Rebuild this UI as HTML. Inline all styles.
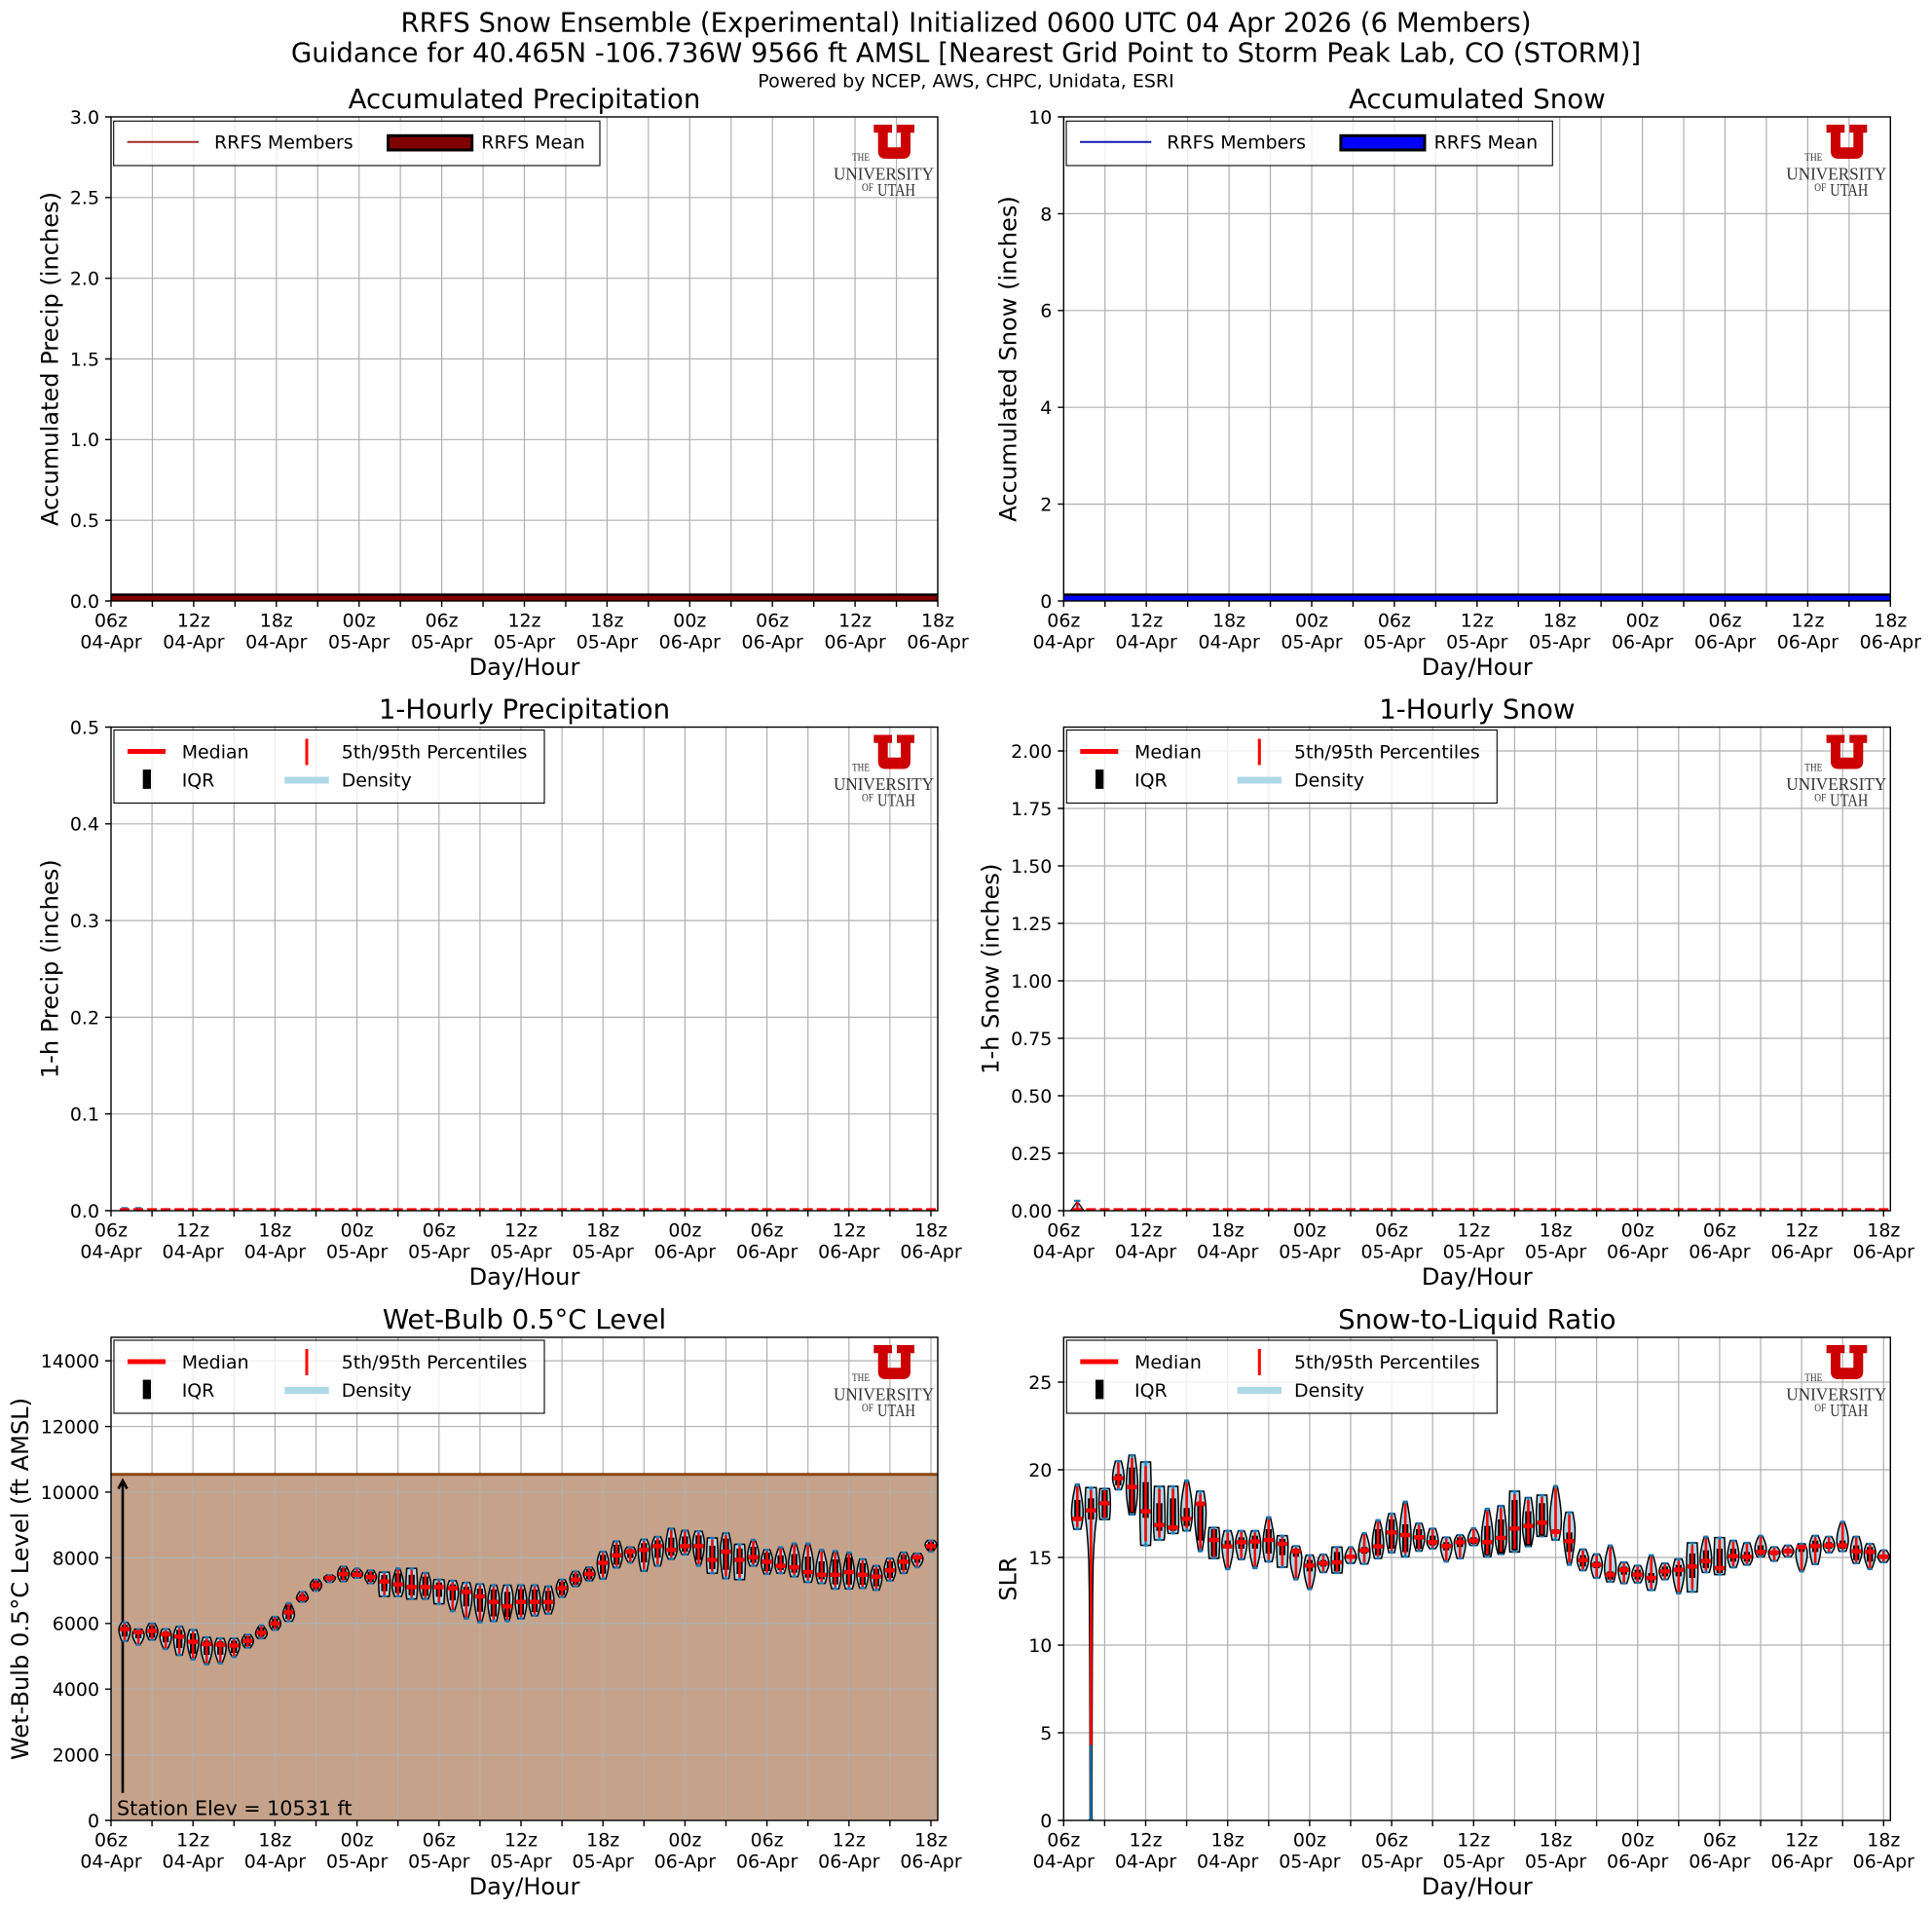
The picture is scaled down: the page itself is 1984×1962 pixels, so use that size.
<!DOCTYPE html>
<html><head><meta charset="utf-8"><title>RRFS Snow Ensemble</title>
<style>
html,body{margin:0;padding:0;background:#fff;overflow:hidden}
svg{display:block}
.g{stroke:#b0b0b0;stroke-width:1.2;fill:none}
.sp{fill:none;stroke:#000;stroke-width:1.4}
.tk{stroke:#000;stroke-width:1.4;fill:none}
.t{font-size:18.94px}
.lg{font-size:18.94px}
.logo{font-family:"Liberation Serif","DejaVu Serif",serif;fill:#333}
</style></head>
<body>
<svg xmlns="http://www.w3.org/2000/svg" width="1984" height="1962" viewBox="0 0 1984 1962" font-family="'DejaVu Sans','Liberation Sans',sans-serif">
<defs>
<path id="vgA" class="g" d="M42.45 0V497M84.9 0V497M127.35 0V497M169.8 0V497M212.25 0V497M254.7 0V497M297.15 0V497M339.6 0V497M382.05 0V497M424.5 0V497M466.95 0V497M509.4 0V497M551.85 0V497M594.3 0V497M636.75 0V497M679.2 0V497M721.65 0V497M764.1 0V497M806.55 0V497"/>
<path id="vgB" class="g" d="M42.1 0V496M84.2 0V496M126.3 0V496M168.4 0V496M210.5 0V496M252.6 0V496M294.7 0V496M336.8 0V496M378.9 0V496M421 0V496M463.1 0V496M505.2 0V496M547.3 0V496M589.4 0V496M631.5 0V496M673.6 0V496M715.7 0V496M757.8 0V496M799.9 0V496M842 0V496"/>
<path id="xtA" class="tk" d="M0 0v6M42.45 0v6M84.9 0v6M127.35 0v6M169.8 0v6M212.25 0v6M254.7 0v6M297.15 0v6M339.6 0v6M382.05 0v6M424.5 0v6M466.95 0v6M509.4 0v6M551.85 0v6M594.3 0v6M636.75 0v6M679.2 0v6M721.65 0v6M764.1 0v6M806.55 0v6M849 0v6"/>
<path id="xtB" class="tk" d="M0 0v6M42.1 0v6M84.2 0v6M126.3 0v6M168.4 0v6M210.5 0v6M252.6 0v6M294.7 0v6M336.8 0v6M378.9 0v6M421 0v6M463.1 0v6M505.2 0v6M547.3 0v6M589.4 0v6M631.5 0v6M673.6 0v6M715.7 0v6M757.8 0v6M799.9 0v6M842 0v6"/>
<path id="uU" fill="#cc0000" d="M0,0 H18.7 V8.3 H14.4 V23.3 H27.7 V8.3 H23.7 V0 H41.7 V8.3 H37.7 V27 Q37.7,35 29.7,35 H12.4 Q4.4,35 4.4,27 V8.3 H0 Z"/>
</defs>
<rect x="0" y="0" width="1984" height="1962" fill="#fff"/>

<!-- Suptitle -->
<text x="992" y="32.3" text-anchor="middle" font-size="27.6">RRFS Snow Ensemble (Experimental) Initialized 0600 UTC 04 Apr 2026 (6 Members)</text>
<text x="992" y="63.3" text-anchor="middle" font-size="27.6">Guidance for 40.465N -106.736W 9566 ft AMSL [Nearest Grid Point to Storm Peak Lab, CO (STORM)]</text>
<text x="992" y="89.3" text-anchor="middle" font-size="19">Powered by NCEP, AWS, CHPC, Unidata, ESRI</text>

<!-- ============ P1 Accumulated Precipitation ============ -->
<g transform="translate(114,120)">
<text x="424.5" y="-9" text-anchor="middle" font-size="27.6">Accumulated Precipitation</text>
<use href="#vgA"/>
<path class="g" d="M0 414.17H849M0 331.33H849M0 248.5H849M0 165.67H849M0 82.83H849"/>
<rect x="0" y="489.3" width="849" height="7.7" fill="#000"/>
<rect x="0" y="491.7" width="849" height="5.3" fill="#800000"/>
<rect x="2.7" y="4.3" width="499.3" height="45.7" fill="#fff" fill-opacity="0.8" stroke="#000" stroke-width="1.1"/>
<path d="M16.7 25.7H90" stroke="#a52a2a" stroke-width="2"/>
<text class="lg" x="106" y="32.6">RRFS Members</text>
<rect x="284.6" y="19.3" width="86.1" height="14.7" fill="#800000" stroke="#000" stroke-width="3"/>
<text class="lg" x="380.3" y="32.6">RRFS Mean</text>
<use href="#uU" x="783.3" y="8"/>
<text class="logo" x="761" y="45" font-size="12" textLength="18" lengthAdjust="spacingAndGlyphs">THE</text>
<text class="logo" x="742" y="64.5" font-size="18" textLength="103" lengthAdjust="spacingAndGlyphs">UNIVERSITY</text>
<text class="logo" x="771" y="76" font-size="12" textLength="12" lengthAdjust="spacingAndGlyphs">OF</text>
<text class="logo" x="787" y="81" font-size="18" textLength="39" lengthAdjust="spacingAndGlyphs">UTAH</text>
<rect class="sp" x="0" y="0" width="849" height="497"/>
<use href="#xtA" y="497"/>
<path class="tk" d="M0 497h-6M0 414.17h-6M0 331.33h-6M0 248.5h-6M0 165.67h-6M0 82.83h-6M0 0h-6"/>
<g class="t" text-anchor="end">
<text x="-12" y="503.9">0.0</text><text x="-12" y="421.07">0.5</text><text x="-12" y="338.23">1.0</text><text x="-12" y="255.4">1.5</text><text x="-12" y="172.57">2.0</text><text x="-12" y="89.73">2.5</text><text x="-12" y="6.9">3.0</text>
</g>
<g class="t" text-anchor="middle">
<text x="0" y="523.5">06z<tspan x="0" dy="22">04-Apr</tspan></text>
<text x="84.9" y="523.5">12z<tspan x="84.9" dy="22">04-Apr</tspan></text>
<text x="169.8" y="523.5">18z<tspan x="169.8" dy="22">04-Apr</tspan></text>
<text x="254.7" y="523.5">00z<tspan x="254.7" dy="22">05-Apr</tspan></text>
<text x="339.6" y="523.5">06z<tspan x="339.6" dy="22">05-Apr</tspan></text>
<text x="424.5" y="523.5">12z<tspan x="424.5" dy="22">05-Apr</tspan></text>
<text x="509.4" y="523.5">18z<tspan x="509.4" dy="22">05-Apr</tspan></text>
<text x="594.3" y="523.5">00z<tspan x="594.3" dy="22">06-Apr</tspan></text>
<text x="679.2" y="523.5">06z<tspan x="679.2" dy="22">06-Apr</tspan></text>
<text x="764.1" y="523.5">12z<tspan x="764.1" dy="22">06-Apr</tspan></text>
<text x="849" y="523.5">18z<tspan x="849" dy="22">06-Apr</tspan></text>
</g>
<text x="424.5" y="573" text-anchor="middle" font-size="24.1">Day/Hour</text>
<text transform="translate(-54.6,248.5) rotate(-90)" text-anchor="middle" font-size="24.1">Accumulated Precip (inches)</text>
</g>

<!-- ============ P2 Accumulated Snow ============ -->
<g transform="translate(1092.3,120)">
<text x="424.5" y="-9" text-anchor="middle" font-size="27.6">Accumulated Snow</text>
<use href="#vgA"/>
<path class="g" d="M0 397.6H849M0 298.2H849M0 198.8H849M0 99.4H849"/>
<rect x="0" y="489.3" width="849" height="7.7" fill="#000"/>
<rect x="0" y="491.7" width="849" height="5.3" fill="#0000ff"/>
<rect x="2.7" y="4.3" width="499.3" height="45.7" fill="#fff" fill-opacity="0.8" stroke="#000" stroke-width="1.1"/>
<path d="M16.7 25.7H90" stroke="#1515b0" stroke-width="2"/>
<text class="lg" x="106" y="32.6">RRFS Members</text>
<rect x="284.6" y="19.3" width="86.1" height="14.7" fill="#0000ff" stroke="#000" stroke-width="3"/>
<text class="lg" x="380.3" y="32.6">RRFS Mean</text>
<use href="#uU" x="783.3" y="8"/>
<text class="logo" x="761" y="45" font-size="12" textLength="18" lengthAdjust="spacingAndGlyphs">THE</text>
<text class="logo" x="742" y="64.5" font-size="18" textLength="103" lengthAdjust="spacingAndGlyphs">UNIVERSITY</text>
<text class="logo" x="771" y="76" font-size="12" textLength="12" lengthAdjust="spacingAndGlyphs">OF</text>
<text class="logo" x="787" y="81" font-size="18" textLength="39" lengthAdjust="spacingAndGlyphs">UTAH</text>
<rect class="sp" x="0" y="0" width="849" height="497"/>
<use href="#xtA" y="497"/>
<path class="tk" d="M0 497h-6M0 397.6h-6M0 298.2h-6M0 198.8h-6M0 99.4h-6M0 0h-6"/>
<g class="t" text-anchor="end">
<text x="-12" y="503.9">0</text><text x="-12" y="404.5">2</text><text x="-12" y="305.1">4</text><text x="-12" y="205.7">6</text><text x="-12" y="106.3">8</text><text x="-12" y="6.9">10</text>
</g>
<g class="t" text-anchor="middle">
<text x="0" y="523.5">06z<tspan x="0" dy="22">04-Apr</tspan></text>
<text x="84.9" y="523.5">12z<tspan x="84.9" dy="22">04-Apr</tspan></text>
<text x="169.8" y="523.5">18z<tspan x="169.8" dy="22">04-Apr</tspan></text>
<text x="254.7" y="523.5">00z<tspan x="254.7" dy="22">05-Apr</tspan></text>
<text x="339.6" y="523.5">06z<tspan x="339.6" dy="22">05-Apr</tspan></text>
<text x="424.5" y="523.5">12z<tspan x="424.5" dy="22">05-Apr</tspan></text>
<text x="509.4" y="523.5">18z<tspan x="509.4" dy="22">05-Apr</tspan></text>
<text x="594.3" y="523.5">00z<tspan x="594.3" dy="22">06-Apr</tspan></text>
<text x="679.2" y="523.5">06z<tspan x="679.2" dy="22">06-Apr</tspan></text>
<text x="764.1" y="523.5">12z<tspan x="764.1" dy="22">06-Apr</tspan></text>
<text x="849" y="523.5">18z<tspan x="849" dy="22">06-Apr</tspan></text>
</g>
<text x="424.5" y="573" text-anchor="middle" font-size="24.1">Day/Hour</text>
<text transform="translate(-48.7,248.5) rotate(-90)" text-anchor="middle" font-size="24.1">Accumulated Snow (inches)</text>
</g>

<!-- ============ P3 1-Hourly Precipitation ============ -->
<g transform="translate(114,746.5)">
<text x="424.5" y="-9" text-anchor="middle" font-size="27.6">1-Hourly Precipitation</text>
<use href="#vgB"/>
<path class="g" d="M0 397.2H849M0 297.9H849M0 198.6H849M0 99.3H849"/>
<path d="M10.8 493.8H17.2M24.9 493.8H31.3" stroke="#1f77b4" stroke-width="2"/>
<path d="M9.03 495.2H849" stroke="#ff0000" stroke-width="2.6" stroke-dasharray="10 4.033"/>
<rect x="3" y="3" width="442" height="75" fill="#fff" fill-opacity="0.8" stroke="#000" stroke-width="1.1"/>
<rect x="17" y="22.5" width="39" height="5" fill="#ff0000"/>
<text class="lg" x="72.7" y="31.9">Median</text>
<rect x="199.5" y="12" width="3" height="27" fill="#ff0000"/>
<text class="lg" x="236.7" y="31.9">5th/95th Percentiles</text>
<rect x="32.7" y="43.6" width="8.3" height="19.8" fill="#000"/>
<text class="lg" x="72.7" y="60.9">IQR</text>
<rect x="178.3" y="51" width="45.4" height="7" fill="#add8e6"/>
<text class="lg" x="236.7" y="60.9">Density</text>
<use href="#uU" x="783.3" y="8"/>
<text class="logo" x="761" y="45" font-size="12" textLength="18" lengthAdjust="spacingAndGlyphs">THE</text>
<text class="logo" x="742" y="64.5" font-size="18" textLength="103" lengthAdjust="spacingAndGlyphs">UNIVERSITY</text>
<text class="logo" x="771" y="76" font-size="12" textLength="12" lengthAdjust="spacingAndGlyphs">OF</text>
<text class="logo" x="787" y="81" font-size="18" textLength="39" lengthAdjust="spacingAndGlyphs">UTAH</text>
<rect class="sp" x="0" y="0" width="849" height="496.5"/>
<use href="#xtB" y="496.5"/>
<path class="tk" d="M0 496.5h-6M0 397.2h-6M0 297.9h-6M0 198.6h-6M0 99.3h-6M0 0h-6"/>
<g class="t" text-anchor="end">
<text x="-12" y="503.4">0.0</text><text x="-12" y="404.1">0.1</text><text x="-12" y="304.8">0.2</text><text x="-12" y="205.5">0.3</text><text x="-12" y="106.2">0.4</text><text x="-12" y="6.9">0.5</text>
</g>
<g class="t" text-anchor="middle">
<text x="0" y="523">06z<tspan x="0" dy="22">04-Apr</tspan></text>
<text x="84.2" y="523">12z<tspan x="84.2" dy="22">04-Apr</tspan></text>
<text x="168.4" y="523">18z<tspan x="168.4" dy="22">04-Apr</tspan></text>
<text x="252.6" y="523">00z<tspan x="252.6" dy="22">05-Apr</tspan></text>
<text x="336.8" y="523">06z<tspan x="336.8" dy="22">05-Apr</tspan></text>
<text x="421" y="523">12z<tspan x="421" dy="22">05-Apr</tspan></text>
<text x="505.2" y="523">18z<tspan x="505.2" dy="22">05-Apr</tspan></text>
<text x="589.4" y="523">00z<tspan x="589.4" dy="22">06-Apr</tspan></text>
<text x="673.6" y="523">06z<tspan x="673.6" dy="22">06-Apr</tspan></text>
<text x="757.8" y="523">12z<tspan x="757.8" dy="22">06-Apr</tspan></text>
<text x="842" y="523">18z<tspan x="842" dy="22">06-Apr</tspan></text>
</g>
<text x="424.5" y="572.5" text-anchor="middle" font-size="24.1">Day/Hour</text>
<text transform="translate(-54.6,248.25) rotate(-90)" text-anchor="middle" font-size="24.1">1-h Precip (inches)</text>
</g>

<!-- ============ P4 1-Hourly Snow ============ -->
<g transform="translate(1092.3,746.5)">
<text x="424.5" y="-9" text-anchor="middle" font-size="27.6">1-Hourly Snow</text>
<use href="#vgB"/>
<path class="g" d="M0 437.5H849M0 378.5H849M0 319.5H849M0 260.5H849M0 201.5H849M0 142.5H849M0 83.5H849M0 24.5H849"/>
<polygon points="7.2,496.5 14.03,487 20.9,496.5" fill="#add8e6" stroke="#000" stroke-width="1.2"/>
<rect x="12.9" y="487.5" width="2.3" height="9" fill="#ff0000"/>
<path d="M10.8 486.4H17.2" stroke="#1f77b4" stroke-width="2.3"/>
<path d="M9.03 495.2H849" stroke="#ff0000" stroke-width="2.6" stroke-dasharray="10 4.033"/>
<rect x="3" y="3" width="442" height="75" fill="#fff" fill-opacity="0.8" stroke="#000" stroke-width="1.1"/>
<rect x="17" y="22.5" width="39" height="5" fill="#ff0000"/>
<text class="lg" x="72.7" y="31.9">Median</text>
<rect x="199.5" y="12" width="3" height="27" fill="#ff0000"/>
<text class="lg" x="236.7" y="31.9">5th/95th Percentiles</text>
<rect x="32.7" y="43.6" width="8.3" height="19.8" fill="#000"/>
<text class="lg" x="72.7" y="60.9">IQR</text>
<rect x="178.3" y="51" width="45.4" height="7" fill="#add8e6"/>
<text class="lg" x="236.7" y="60.9">Density</text>
<use href="#uU" x="783.3" y="8"/>
<text class="logo" x="761" y="45" font-size="12" textLength="18" lengthAdjust="spacingAndGlyphs">THE</text>
<text class="logo" x="742" y="64.5" font-size="18" textLength="103" lengthAdjust="spacingAndGlyphs">UNIVERSITY</text>
<text class="logo" x="771" y="76" font-size="12" textLength="12" lengthAdjust="spacingAndGlyphs">OF</text>
<text class="logo" x="787" y="81" font-size="18" textLength="39" lengthAdjust="spacingAndGlyphs">UTAH</text>
<rect class="sp" x="0" y="0" width="849" height="496.5"/>
<use href="#xtB" y="496.5"/>
<path class="tk" d="M0 496.5h-6M0 437.5h-6M0 378.5h-6M0 319.5h-6M0 260.5h-6M0 201.5h-6M0 142.5h-6M0 83.5h-6M0 24.5h-6"/>
<g class="t" text-anchor="end">
<text x="-12" y="503.4">0.00</text><text x="-12" y="444.4">0.25</text><text x="-12" y="385.4">0.50</text><text x="-12" y="326.4">0.75</text><text x="-12" y="267.4">1.00</text><text x="-12" y="208.4">1.25</text><text x="-12" y="149.4">1.50</text><text x="-12" y="90.4">1.75</text><text x="-12" y="31.4">2.00</text>
</g>
<g class="t" text-anchor="middle">
<text x="0" y="523">06z<tspan x="0" dy="22">04-Apr</tspan></text>
<text x="84.2" y="523">12z<tspan x="84.2" dy="22">04-Apr</tspan></text>
<text x="168.4" y="523">18z<tspan x="168.4" dy="22">04-Apr</tspan></text>
<text x="252.6" y="523">00z<tspan x="252.6" dy="22">05-Apr</tspan></text>
<text x="336.8" y="523">06z<tspan x="336.8" dy="22">05-Apr</tspan></text>
<text x="421" y="523">12z<tspan x="421" dy="22">05-Apr</tspan></text>
<text x="505.2" y="523">18z<tspan x="505.2" dy="22">05-Apr</tspan></text>
<text x="589.4" y="523">00z<tspan x="589.4" dy="22">06-Apr</tspan></text>
<text x="673.6" y="523">06z<tspan x="673.6" dy="22">06-Apr</tspan></text>
<text x="757.8" y="523">12z<tspan x="757.8" dy="22">06-Apr</tspan></text>
<text x="842" y="523">18z<tspan x="842" dy="22">06-Apr</tspan></text>
</g>
<text x="424.5" y="572.5" text-anchor="middle" font-size="24.1">Day/Hour</text>
<text transform="translate(-66.8,248.25) rotate(-90)" text-anchor="middle" font-size="24.1">1-h Snow (inches)</text>
</g>

<!-- ============ P5 Wet-Bulb ============ -->
<g transform="translate(114,1373)">
<text x="424.5" y="-9" text-anchor="middle" font-size="27.6">Wet-Bulb 0.5°C Level</text>
<rect x="0" y="141" width="849" height="355" fill="#c5a289"/>
<use href="#vgB"/>
<path class="g" d="M0 428.59H849M0 361.18H849M0 293.77H849M0 226.36H849M0 158.95H849M0 91.54H849M0 24.13H849"/>
<path d="M0 140.8H849" stroke="#8b4513" stroke-width="3"/>
<path d="M12 467.7V147.5M7.5 155.5L12 147L16.5 155.5" stroke="#000" stroke-width="2.6" fill="none"/>
<text x="6" y="490.6" font-size="20.67">Station Elev = 10531 ft</text>
<g id="v5" transform="translate(-114,-1373)"></g>
<rect x="3" y="3" width="442" height="75" fill="#fff" fill-opacity="0.8" stroke="#000" stroke-width="1.1"/>
<rect x="17" y="22.5" width="39" height="5" fill="#ff0000"/>
<text class="lg" x="72.7" y="31.9">Median</text>
<rect x="199.5" y="12" width="3" height="27" fill="#ff0000"/>
<text class="lg" x="236.7" y="31.9">5th/95th Percentiles</text>
<rect x="32.7" y="43.6" width="8.3" height="19.8" fill="#000"/>
<text class="lg" x="72.7" y="60.9">IQR</text>
<rect x="178.3" y="51" width="45.4" height="7" fill="#add8e6"/>
<text class="lg" x="236.7" y="60.9">Density</text>
<use href="#uU" x="783.3" y="8"/>
<text class="logo" x="761" y="45" font-size="12" textLength="18" lengthAdjust="spacingAndGlyphs">THE</text>
<text class="logo" x="742" y="64.5" font-size="18" textLength="103" lengthAdjust="spacingAndGlyphs">UNIVERSITY</text>
<text class="logo" x="771" y="76" font-size="12" textLength="12" lengthAdjust="spacingAndGlyphs">OF</text>
<text class="logo" x="787" y="81" font-size="18" textLength="39" lengthAdjust="spacingAndGlyphs">UTAH</text>
<rect class="sp" x="0" y="0" width="849" height="496"/>
<use href="#xtB" y="496"/>
<path class="tk" d="M0 496h-6M0 428.59h-6M0 361.18h-6M0 293.77h-6M0 226.36h-6M0 158.95h-6M0 91.54h-6M0 24.13h-6"/>
<g class="t" text-anchor="end">
<text x="-12" y="502.9">0</text><text x="-12" y="435.49">2000</text><text x="-12" y="368.08">4000</text><text x="-12" y="300.67">6000</text><text x="-12" y="233.26">8000</text><text x="-12" y="165.85">10000</text><text x="-12" y="98.44">12000</text><text x="-12" y="31.03">14000</text>
</g>
<g class="t" text-anchor="middle">
<text x="0" y="522.5">06z<tspan x="0" dy="22">04-Apr</tspan></text>
<text x="84.2" y="522.5">12z<tspan x="84.2" dy="22">04-Apr</tspan></text>
<text x="168.4" y="522.5">18z<tspan x="168.4" dy="22">04-Apr</tspan></text>
<text x="252.6" y="522.5">00z<tspan x="252.6" dy="22">05-Apr</tspan></text>
<text x="336.8" y="522.5">06z<tspan x="336.8" dy="22">05-Apr</tspan></text>
<text x="421" y="522.5">12z<tspan x="421" dy="22">05-Apr</tspan></text>
<text x="505.2" y="522.5">18z<tspan x="505.2" dy="22">05-Apr</tspan></text>
<text x="589.4" y="522.5">00z<tspan x="589.4" dy="22">06-Apr</tspan></text>
<text x="673.6" y="522.5">06z<tspan x="673.6" dy="22">06-Apr</tspan></text>
<text x="757.8" y="522.5">12z<tspan x="757.8" dy="22">06-Apr</tspan></text>
<text x="842" y="522.5">18z<tspan x="842" dy="22">06-Apr</tspan></text>
</g>
<text x="424.5" y="572" text-anchor="middle" font-size="24.1">Day/Hour</text>
<text transform="translate(-84.8,248) rotate(-90)" text-anchor="middle" font-size="24.1">Wet-Bulb 0.5°C Level (ft AMSL)</text>
</g>

<!-- ============ P6 Snow-to-Liquid Ratio ============ -->
<g transform="translate(1092.3,1373)">
<text x="424.5" y="-9" text-anchor="middle" font-size="27.6">Snow-to-Liquid Ratio</text>
<use href="#vgB"/>
<path class="g" d="M0 406H849M0 316H849M0 226H849M0 136H849M0 46H849"/>
<g id="v6" transform="translate(-1092.3,-1373)"></g>
<rect x="3" y="3" width="442" height="75" fill="#fff" fill-opacity="0.8" stroke="#000" stroke-width="1.1"/>
<rect x="17" y="22.5" width="39" height="5" fill="#ff0000"/>
<text class="lg" x="72.7" y="31.9">Median</text>
<rect x="199.5" y="12" width="3" height="27" fill="#ff0000"/>
<text class="lg" x="236.7" y="31.9">5th/95th Percentiles</text>
<rect x="32.7" y="43.6" width="8.3" height="19.8" fill="#000"/>
<text class="lg" x="72.7" y="60.9">IQR</text>
<rect x="178.3" y="51" width="45.4" height="7" fill="#add8e6"/>
<text class="lg" x="236.7" y="60.9">Density</text>
<use href="#uU" x="783.3" y="8"/>
<text class="logo" x="761" y="45" font-size="12" textLength="18" lengthAdjust="spacingAndGlyphs">THE</text>
<text class="logo" x="742" y="64.5" font-size="18" textLength="103" lengthAdjust="spacingAndGlyphs">UNIVERSITY</text>
<text class="logo" x="771" y="76" font-size="12" textLength="12" lengthAdjust="spacingAndGlyphs">OF</text>
<text class="logo" x="787" y="81" font-size="18" textLength="39" lengthAdjust="spacingAndGlyphs">UTAH</text>
<rect class="sp" x="0" y="0" width="849" height="496"/>
<use href="#xtB" y="496"/>
<path class="tk" d="M0 496h-6M0 406h-6M0 316h-6M0 226h-6M0 136h-6M0 46h-6"/>
<g class="t" text-anchor="end">
<text x="-12" y="502.9">0</text><text x="-12" y="412.9">5</text><text x="-12" y="322.9">10</text><text x="-12" y="232.9">15</text><text x="-12" y="142.9">20</text><text x="-12" y="52.9">25</text>
</g>
<g class="t" text-anchor="middle">
<text x="0" y="522.5">06z<tspan x="0" dy="22">04-Apr</tspan></text>
<text x="84.2" y="522.5">12z<tspan x="84.2" dy="22">04-Apr</tspan></text>
<text x="168.4" y="522.5">18z<tspan x="168.4" dy="22">04-Apr</tspan></text>
<text x="252.6" y="522.5">00z<tspan x="252.6" dy="22">05-Apr</tspan></text>
<text x="336.8" y="522.5">06z<tspan x="336.8" dy="22">05-Apr</tspan></text>
<text x="421" y="522.5">12z<tspan x="421" dy="22">05-Apr</tspan></text>
<text x="505.2" y="522.5">18z<tspan x="505.2" dy="22">05-Apr</tspan></text>
<text x="589.4" y="522.5">00z<tspan x="589.4" dy="22">06-Apr</tspan></text>
<text x="673.6" y="522.5">06z<tspan x="673.6" dy="22">06-Apr</tspan></text>
<text x="757.8" y="522.5">12z<tspan x="757.8" dy="22">06-Apr</tspan></text>
<text x="842" y="522.5">18z<tspan x="842" dy="22">06-Apr</tspan></text>
</g>
<text x="424.5" y="572" text-anchor="middle" font-size="24.1">Day/Hour</text>
<text transform="translate(-48.7,248) rotate(-90)" text-anchor="middle" font-size="24.1">SLR</text>
</g>
</svg>

<script>
(function(){
var NS="http://www.w3.org/2000/svg";
function el(p,tag,a){var e=document.createElementNS(NS,tag);for(var k in a)e.setAttribute(k,a[k]);p.appendChild(e);return e;}
var W=5.9;
function bodyPts(x,t,b,m,type){
  var h=b-t,wt,wb,p;
  if(type==1){wt=.3*W;wb=.6*W;p=t+.65*h;}
  else if(type==2){wt=.6*W;wb=.3*W;p=t+.35*h;}
  else if(type==3){wt=.85*W;wb=.85*W;p=m;}
  else{wt=.5*W;wb=.5*W;p=m;}
  if(p<t+.15*h)p=t+.15*h; if(p>b-.15*h)p=b-.15*h;
  var N=16,R=[],L=[];
  for(var i=0;i<=N;i++){
    var y=t+h*i/N,w,s;
    if(y<=p){s=(y-t)/(p-t);w=wt+(W-wt)*Math.sin(s*Math.PI/2);}
    else{s=(y-p)/(b-p);w=wb+(W-wb)*Math.cos(s*Math.PI/2);}
    R.push((x+w).toFixed(2)+","+y.toFixed(2));
    L.unshift((x-w).toFixed(2)+","+y.toFixed(2));
  }
  return R.concat(L).join(" ");
}
function deco(g,x,t,b,m,q3,q1,pt,pb){
  el(g,"path",{d:"M"+x+" "+t+"V"+b+"M"+(x-2.5)+" "+t+"H"+(x+2.5)+"M"+(x-2.5)+" "+b+"H"+(x+2.5),stroke:"#1f77b4","stroke-width":"2.2",fill:"none"});
  el(g,"rect",{x:x-3.15,y:q3,width:6.3,height:Math.max(q1-q3,1),fill:"#000"});
  el(g,"rect",{x:x-1.3,y:pt,width:2.6,height:Math.max(pb-pt,0.5),fill:"#ff0000"});
  el(g,"rect",{x:x-5,y:m-2.2,width:10,height:4.4,fill:"#ff0000"});
}
function violin(g,x,t,b,m,q3,q1,type){
  el(g,"polygon",{points:bodyPts(x,t,b,m,type),fill:"#add8e6",stroke:"#000","stroke-width":"1.5"});
  var h=b-t;
  deco(g,x,t,b,m,q3,q1,t+.05*h,b-.05*h);
}
var WB=[[800,850,818,0],[818,860,826,2],[803,847,823,0],[818,872,832,2],[811,888,838,0],[820,900,852,2],[840,913,858,2],[843,910,860,2],[843,893,862,2],[833,868,850,0],
[808,843,828,1],[785,820,803,0],[748,797,773,1],[718,745,735,0],[685,715,700,0],[673,692,680,0],[650,690,670,0],[655,680,672,1],[660,695,678,0],[665,730,690,3],
[655,730,698,1],[655,737,705,3],[667,737,705,0],[685,750,705,3],[688,770,708,2],[693,790,718,2],[697,800,730,2],[700,797,745,0],[700,797,757,2],[700,790,745,0],
[700,782,745,0],[703,777,745,0],[685,732,708,0],[663,703,685,0],[652,688,670,0],[610,683,640,0],[582,653,620,0],[598,640,610,2],[577,662,605,0],[570,648,595,0],
[548,630,605,0],[553,618,595,0],[555,648,595,2],[573,668,632,3],[560,682,610,0],[590,685,632,3],[578,648,625,1],[605,670,637,0],[598,668,648,1],[588,677,652,1],
[588,692,665,1],[605,695,672,1],[608,710,672,1],[612,710,665,1],[630,708,672,0],[648,713,677,0],[628,688,660,0],[612,668,637,0],[615,652,625,2],[580,610,595,2]];
var SLR=[[162,300,268,210,275,1],null,[175,270,220,180,265,3],[90,178,143,130,165,0],[72,255,170,110,250,0],[93,350,245,155,265,3],[168,333,287,220,305,3],[168,313,295,205,305,3],[150,305,268,235,290,1],[183,368,222,215,335,2],
[295,390,333,300,385,3],[305,423,353,335,360,2],[305,393,340,325,360,0],[305,420,338,320,360,2],[263,400,333,300,375,1],[320,417,345,330,380,3],[352,455,368,360,385,2],[380,485,412,395,430,2],[378,433,405,395,415,0],[355,435,402,370,430,3],
[355,405,385,380,390,1],[312,407,365,355,375,1],[272,390,353,300,380,1],[252,372,310,270,360,0],[215,385,318,285,370,1],[282,367,325,300,360,0],[298,360,340,320,350,0],[325,400,352,340,365,2],[318,390,340,325,355,0],[297,350,335,325,345,1],
[237,385,340,290,380,1],[228,377,327,270,375,0],[183,370,298,210,365,3],[203,353,290,245,350,0],[195,322,280,220,320,3],[167,333,308,300,315,1],[248,410,337,310,370,2],[362,427,395,380,415,0],[377,450,410,400,420,0],[350,462,440,430,455,1],
[402,467,425,415,440,0],[412,465,440,425,455,0],[380,488,450,435,465,1],[405,455,430,415,445,0],[392,498,425,410,445,2],[342,493,415,375,450,3],[323,433,398,365,420,1],[326,440,420,360,435,3],[335,418,383,360,400,0],[342,410,385,370,400,0],
[320,385,370,350,380,1],[355,398,372,365,380,0],[350,385,368,360,375,0],[345,430,355,350,370,2],[320,408,352,335,370,0],[323,372,350,340,360,0],[277,368,350,335,360,1],[323,405,368,350,395,0],[345,423,370,355,400,2],[365,402,385,378,392,0]];
var g5=document.getElementById("v5"),g6=document.getElementById("v6");
WB.forEach(function(d,i){
  var x=114+14.033*(i+1);
  function f(z){return 1360+z/2.617;}
  var t=f(d[0]),b=f(d[1]),m=f(d[2]),h=b-t;
  var q3=Math.max(t+.12*h,m-.4*h),q1=Math.min(b-.12*h,m+.4*h);
  violin(g5,x,t,b,m,q3,q1,d[3]);
});
SLR.forEach(function(d,i){
  var x=1092.3+14.033*(i+1);
  function f(z){return 1470+z/3;}
  if(!d){
    var pts=[[1527.3,5.4],[1536.7,5.9],[1556.7,5.9],[1570,4.3],[1586.7,3],[1603.3,2.2],[1636.7,1.7],[1703.3,1.3],[1770,1.1],[1868.3,0.9]];
    var R=[],L=[];
    pts.forEach(function(p){R.push((x+p[1]).toFixed(2)+","+p[0]);L.unshift((x-p[1]).toFixed(2)+","+p[0]);});
    el(g6,"polygon",{points:R.concat(L).join(" "),fill:"#add8e6",stroke:"#000","stroke-width":"1.5"});
    deco(g6,x,1527.3,1868.3,1550.7,1538.3,1560,1530,1791.7);
    return;
  }
  violin(g6,x,f(d[0]),f(d[1]),f(d[2]),f(d[3]),f(d[4]),d[5]);
});
})();
</script>
</body></html>
